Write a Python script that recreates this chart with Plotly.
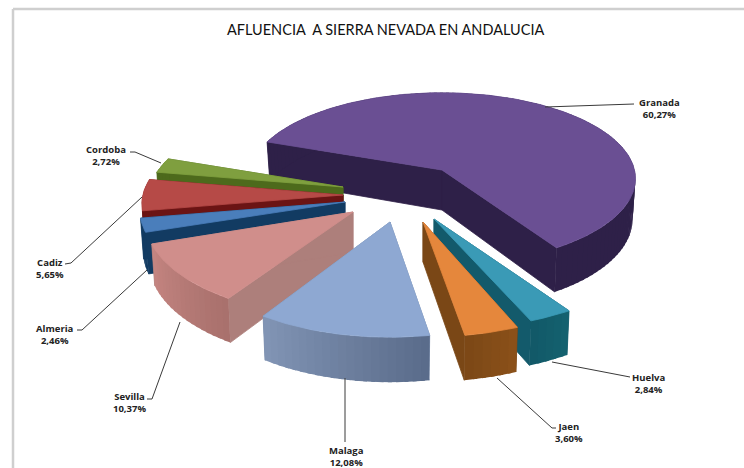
import numpy as np
import plotly.graph_objects as go

TITLE = "AFLUENCIA  A SIERRA NEVADA EN ANDALUCIA"
provinces = ["Granada", "Huelva", "Jaen", "Malaga", "Sevilla", "Almeria", "Cadiz", "Cordoba"]
shares = [60.27, 2.84, 3.60, 12.08, 10.37, 2.46, 5.65, 2.72]
share_labels = ["60,27%", "2,84%", "3,60%", "12,08%", "10,37%", "2,46%", "5,65%", "2,72%"]

# Styling of the exploded perspective pie (clockwise from START_ANGLE, y grows downward)
START_ANGLE = 200.0
RX, RY, PERSP = 192.5, 85.0, 0.10
tips = {"Granada": (442, 170), "Huelva": (434, 219), "Jaen": (423, 222), "Malaga": (390, 222),
        "Sevilla": (353, 212), "Almeria": (345, 202), "Cadiz": (343, 195), "Cordoba": (343, 187)}
scale_x = {"Granada": 1.0, "Huelva": 1.18, "Jaen": 1.15, "Malaga": 1.09,
           "Sevilla": 1.07, "Almeria": 1.06, "Cadiz": 1.04, "Cordoba": 1.0}
scale_y = {"Granada": 1.0, "Huelva": 1.18, "Jaen": 1.22, "Malaga": 1.22,
           "Sevilla": 1.12, "Almeria": 1.06, "Cadiz": 1.04, "Cordoba": 1.0}
top_col = {"Granada": "#6a4f93", "Huelva": "#3a9ab6", "Jaen": "#e5873c", "Malaga": "#8ea8d2",
           "Sevilla": "#d08e8b", "Almeria": "#4a7ebb", "Cadiz": "#b64a47", "Cordoba": "#7f9f3f"}
wall_col = {"Granada": "#2e2048", "Huelva": "#135a6b", "Jaen": "#7a4716", "Malaga": "#7488a8",
            "Sevilla": "#ad7f7b", "Almeria": "#123b62", "Cadiz": "#6b1414", "Cordoba": "#4d6a1c"}
rim_a = {"Granada": "#2e2048", "Huelva": "#14616f", "Jaen": "#8a5019", "Malaga": "#5a6c8b",
         "Sevilla": "#a9716d", "Almeria": "#123b62", "Cadiz": "#6b1414", "Cordoba": "#4d6a1c"}
rim_b = {"Granada": "#2e2048", "Huelva": "#115766", "Jaen": "#7a4716", "Malaga": "#8396b6",
         "Sevilla": "#c68682", "Almeria": "#123b62", "Cadiz": "#6b1414", "Cordoba": "#4d6a1c"}
draw_order = ["Granada", "Huelva", "Jaen", "Cordoba", "Cadiz", "Almeria", "Sevilla", "Malaga"]

leaders = {"Granada": [(545, 107), (634, 104)], "Huelva": [(552, 362), (630, 377)],
           "Jaen": [(497, 378), (552, 428), (556, 428)], "Malaga": [(345, 378), (345, 442)],
           "Sevilla": [(180, 322), (152, 399), (147, 399)], "Almeria": [(147, 270), (82, 330), (77, 330)],
           "Cadiz": [(142, 197), (71, 263), (65, 264)], "Cordoba": [(161, 163), (135, 152), (130, 152)]}
label_xy = {"Granada": (659, 108), "Huelva": (648, 383), "Jaen": (569, 432), "Malaga": (346, 456),
            "Sevilla": (129, 402), "Almeria": (55, 334), "Cadiz": (50, 268), "Cordoba": (106, 155)}


def project(name, ang):
    a = np.radians(ang)
    X, Y = np.cos(a), np.sin(a)
    d = 1 - PERSP * Y
    tx, ty = tips[name]
    return tx + scale_x[name] * RX * X / d, ty + scale_y[name] * RY * Y / d, Y


def lower(name, x, y, Y):
    return x + (tips[name][0] - x) * 0.015, y + 40 + 5 * Y


def blend(c1, c2, t):
    p = [int(c1[i:i + 2], 16) for i in (1, 3, 5)]
    q = [int(c2[i:i + 2], 16) for i in (1, 3, 5)]
    return "#%02x%02x%02x" % tuple(round(u + (v - u) * t) for u, v in zip(p, q))


fig = go.Figure()


def poly(xs, ys, color, width=0.8):
    fig.add_trace(go.Scatter(x=list(xs) + [xs[0]], y=list(ys) + [ys[0]], mode="lines", fill="toself",
                             fillcolor=color, line=dict(color=color, width=width),
                             hoverinfo="skip", showlegend=False))


total = sum(shares)
spans = {}
ang = START_ANGLE
for name, val in zip(provinces, shares):
    spans[name] = (ang, ang + val / total * 360)
    ang += val / total * 360

for name in draw_order:
    a0, a1 = spans[name]
    tx, ty = tips[name]
    btx, bty = tx, ty + 40
    for edge in (a0, a1):
        x, y, Y = project(name, edge)
        bx, by = lower(name, x, y, Y)
        poly([tx, x, bx, btx], [ty, y, by, bty], wall_col[name])
    # outer rim, in finely shaded strips drawn so that each overlaps the one after it
    n = max(2, int((a1 - a0) / 2))
    edges = np.linspace(a0, a1, n + 1)
    for i in reversed(range(n)):
        sub = np.linspace(max(a0, edges[i] - 1.0), edges[i + 1], 4)
        xs, ys, Ys = project(name, sub)
        bxs, bys = lower(name, xs, ys, Ys)
        poly(list(xs) + list(bxs[::-1]), list(ys) + list(bys[::-1]),
             blend(rim_a[name], rim_b[name], i / n), width=0)
    arc = np.linspace(a0, a1, max(8, int(a1 - a0)))
    xs, ys, _ = project(name, arc)
    poly([tx] + list(xs), [ty] + list(ys), top_col[name])

for name, lab in zip(provinces, share_labels):
    pts = leaders[name]
    fig.add_trace(go.Scatter(x=[p[0] for p in pts], y=[p[1] for p in pts], mode="lines",
                             line=dict(color="#3a3a3a", width=1), hoverinfo="skip", showlegend=False))
    lx, ly = label_xy[name]
    fig.add_annotation(x=lx, y=ly, text=f"<b>{name}</b><br><b>{lab}</b>", showarrow=False,
                       font=dict(family="Open Sans", size=9.5, color="#222222"), align="center")

fig.add_annotation(x=385.5, y=29, text=TITLE, showarrow=False,
                   font=dict(family="Lato", size=14.5, color="#111111"))
fig.add_shape(type="line", x0=13, x1=744, y0=9, y1=9, line=dict(color="#cfcfcf", width=2.5))
fig.add_shape(type="line", x0=13, x1=13, y0=9, y1=468, line=dict(color="#cfcfcf", width=2.5))

fig.update_xaxes(range=[0, 744], visible=False, fixedrange=True)
fig.update_yaxes(range=[468, 0], visible=False, fixedrange=True)
fig.update_layout(width=744, height=468, margin=dict(l=0, r=0, t=0, b=0), paper_bgcolor="white",
                  plot_bgcolor="white", showlegend=False)
fig.write_html("out.html", config={"displayModeBar": False},
               post_script="document.body.style.margin='0';document.body.style.overflow='hidden';")
